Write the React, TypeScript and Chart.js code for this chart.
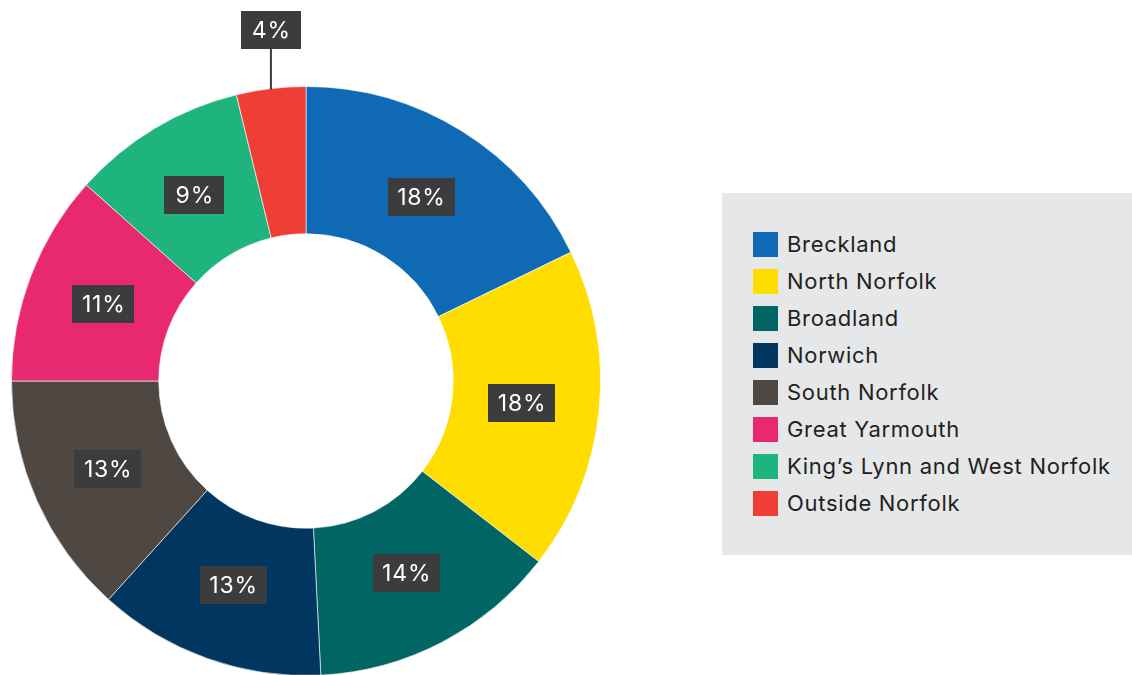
import React, { useEffect, useRef } from "react";
import { Chart, registerables } from "chart.js";

Chart.register(...registerables);

const categories = [
  "Breckland",
  "North Norfolk",
  "Broadland",
  "Norwich",
  "South Norfolk",
  "Great Yarmouth",
  "King\u2019s Lynn and West Norfolk",
  "Outside Norfolk",
];
// slice sizes
const shares = [17.8, 17.7, 13.7, 12.5, 13.3, 11.6, 9.6, 3.8];
// labels as printed on the chart
const shareLabels = ["18%", "18%", "14%", "13%", "13%", "11%", "9%", "4%"];
const colors = [
  "#0f69b4",
  "#ffdd00",
  "#006563",
  "#003660",
  "#4f4842",
  "#e8286f",
  "#1fb47e",
  "#ef3e36",
];

const FONT = "Inter, 'Open Sans', sans-serif";
const BOX = "#3d3c3c";

const labelPlugin = {
  id: "boxLabels",
  afterDatasetsDraw(chart: any) {
    const ctx = chart.ctx;
    const meta = chart.getDatasetMeta(0);
    const data = chart.data.datasets[0].data as number[];
    ctx.save();
    ctx.font = `23px ${FONT}`;
    const ls = 0.8;
    (ctx as any).letterSpacing = `${ls}px`;
    ctx.textAlign = "center";
    ctx.textBaseline = "middle";
    meta.data.forEach((arc: any, i: number) => {
      const text = shareLabels[i];
      const tw = ctx.measureText(text).width - ls;
      const bw = Math.max(60, tw + 19);
      const bh = 38;
      const p = arc.getProps(["x", "y", "startAngle", "endAngle", "innerRadius", "outerRadius"], true);
      const mid = (p.startAngle + p.endAngle) / 2;
      let cx: number, cy: number;
      if (data[i] < 5) {
        const ex = p.x + Math.cos(mid) * p.outerRadius;
        const ey = p.y + Math.sin(mid) * p.outerRadius;
        cx = ex;
        cy = ey - 40 - bh / 2;
        ctx.strokeStyle = BOX;
        ctx.lineWidth = 2;
        ctx.beginPath();
        ctx.moveTo(ex, ey + 1);
        ctx.lineTo(ex, cy + bh / 2);
        ctx.stroke();
      } else {
        const r = (p.innerRadius + p.outerRadius) / 2 - 4;
        cx = p.x + Math.cos(mid) * r;
        cy = p.y + Math.sin(mid) * r;
      }
      ctx.fillStyle = BOX;
      ctx.fillRect(Math.round(cx - bw / 2), Math.round(cy - bh / 2), Math.round(bw), bh);
      ctx.fillStyle = "#ffffff";
      ctx.fillText(text, cx + ls / 2, cy + 1);
    });
    ctx.restore();
  },
};

export default function App() {
  const ref = useRef<HTMLCanvasElement | null>(null);
  useEffect(() => {
    if (!ref.current) return;
    const chart = new Chart(ref.current, {
      type: "doughnut",
      data: {
        labels: categories,
        datasets: [
          {
            data: shares,
            backgroundColor: colors,
            borderColor: "rgba(255,255,255,0.6)",
            borderWidth: 1,
          },
        ],
      },
      options: {
        responsive: false,
        animation: false,
        cutout: "50%",
        layout: { padding: { top: 86, left: 11, right: 11, bottom: 0 } },
        plugins: {
          legend: { display: false },
          tooltip: { enabled: false },
        },
      },
      plugins: [labelPlugin],
    });
    return () => chart.destroy();
  }, []);

  return (
    <div style={{ position: "fixed", left: 0, top: 0, width: 1132, height: 675, background: "#fff", overflow: "hidden" }}>
      <canvas ref={ref} width={612} height={676} style={{ position: "absolute", left: 0, top: 0 }} />
      <div
        style={{
          position: "absolute",
          left: 722,
          top: 193,
          width: 410,
          height: 362,
          background: "#e6e7e8",
        }}
      >
        {categories.map((c, i) => (
          <div key={c} style={{ position: "absolute", left: 31, top: 39 + i * 37, height: 25, display: "flex", alignItems: "center" }}>
            <div style={{ width: 25, height: 25, background: colors[i] }} />
            <span
              style={{
                marginLeft: 9,
                fontFamily: FONT,
                fontSize: 22,
                letterSpacing: 0.7,
                color: "#231f20",
                whiteSpace: "nowrap",
                lineHeight: "25px",
              }}
            >
              {c}
            </span>
          </div>
        ))}
      </div>
    </div>
  );
}
